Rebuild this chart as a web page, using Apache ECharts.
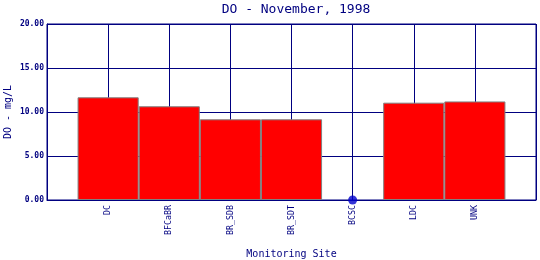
<!DOCTYPE html>
<html>
<head>
<meta charset="utf-8">
<script src="https://cdn.jsdelivr.net/npm/echarts@6/dist/echarts.min.js"></script>
<style>html,body{margin:0;padding:0;background:#fff}#c{width:540px;height:260px}</style>
</head>
<body>
<div id="c"></div>
<script>
const categories = ['DC', 'BFCaBR', 'BR_SDB', 'BR_SDT', 'BCSC', 'LDC', 'UNK'];
const doValues = [11.67, 10.65, 9.17, 9.17, 0, 11.06, 11.2];
const yTicks = [0, 5, 10, 15, 20];

const NAVY = '#000080';
const MONO = 'DejaVu Sans Mono';
const axisData = [''].concat(categories, ['']);
const barData = ['-'].concat(doValues.map(v => v === 0 ? '-' : v), ['-']);
const dotData = ['-'].concat(doValues.map(v => v === 0 ? v : '-'), ['-']);

const chart = echarts.init(document.getElementById('c'), null, {renderer: 'canvas'});
chart.setOption({
  animation: false,
  backgroundColor: '#ffffff',
  title: {
    text: 'DO - November, 1998',
    left: 291, textAlign: 'center', top: -2,
    textStyle: {fontFamily: MONO, fontSize: 13, fontWeight: 'normal', color: NAVY}
  },
  grid: {left: 47, right: 4, top: 24, bottom: 60, show: true, borderColor: NAVY, borderWidth: 1,
    containLabel: false, outerBoundsMode: 'none'},
  xAxis: {
    type: 'category', data: axisData, boundaryGap: false,
    name: 'Monitoring Site', nameLocation: 'middle', nameGap: 49, nameMoveOverlap: false,
    nameTextStyle: {fontFamily: MONO, fontSize: 10, color: NAVY},
    axisLine: {lineStyle: {color: NAVY, width: 1}},
    axisTick: {show: false},
    axisLabel: {rotate: 90, interval: 0, margin: 5, fontFamily: MONO, fontSize: 8.3, color: NAVY},
    splitLine: {show: true, interval: 0, lineStyle: {color: NAVY, width: 1}}
  },
  yAxis: {
    type: 'value', min: yTicks[0], max: yTicks[yTicks.length - 1], interval: yTicks[1] - yTicks[0],
    name: 'DO - mg/L', nameLocation: 'middle', nameRotate: 90, nameGap: 34, nameMoveOverlap: false,
    nameTextStyle: {fontFamily: MONO, fontSize: 10, color: NAVY},
    axisLine: {show: true, lineStyle: {color: NAVY, width: 1}},
    axisTick: {show: false},
    axisLabel: {margin: 3, fontFamily: MONO, fontSize: 8, fontWeight: 'bold', color: NAVY,
      formatter: v => v.toFixed(2)},
    splitLine: {show: true, lineStyle: {color: NAVY, width: 1}}
  },
  series: [
    {
      type: 'bar', data: barData, barWidth: '100%', barGap: '0%',
      itemStyle: {color: '#ff0000', borderColor: '#808080', borderWidth: 1},
      z: 3
    },
    {
      type: 'scatter', data: dotData, symbol: 'circle', symbolSize: 9,
      itemStyle: {color: '#0000cc'}, z: 5, clip: false
    }
  ]
});
</script>
</body>
</html>
